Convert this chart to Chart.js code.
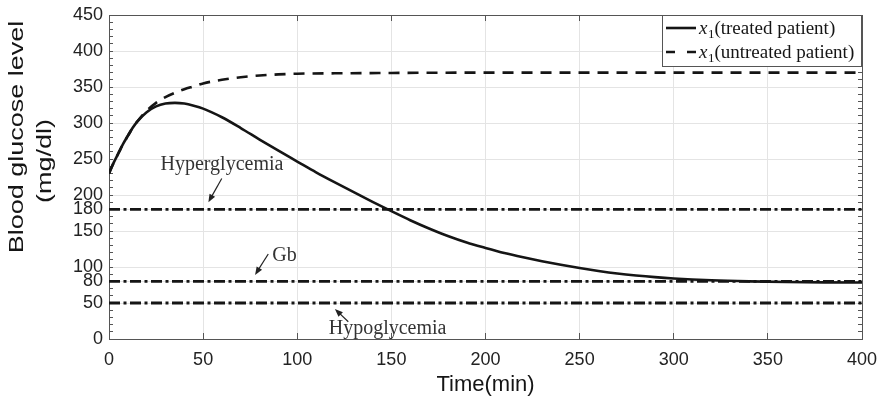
<!DOCTYPE html>
<html><head><meta charset="utf-8">
<script src="https://cdn.jsdelivr.net/npm/chart.js@4.4.1/dist/chart.umd.min.js"></script>
<style>html,body{margin:0;padding:0;background:#fff}#wrap{width:881px;height:406px;position:relative}</style>
</head><body><div id="wrap"><canvas id="c" width="881" height="406"></canvas></div>
<script>
// ---- data ----
const timeTreated = [0,2.5,5,7.5,10,12.5,15,20,25,30,35,40,45,50,60,70,80,90,100,110,120,130,140,150,160,170,180,190,200,210,220,230,240,250,260,270,280,290,300,320,340,360,380,400];
const glucoseTreated = [230,245,258,271,282,293,302,315,323,327,328,327,324,320,308,293,277,261.5,246.5,231.5,217.5,204,190.5,177.5,165,153.5,143,134,126.5,119.5,113.5,108,103,98.5,94.5,91,88.2,85.9,84.1,81.6,80.1,79.2,78.7,78.4];
const timeUntreated = [0,2.5,5,7.5,10,12.5,15,20,25,30,35,40,45,50,60,70,80,90,100,120,150,200,250,300,350,400];
const glucoseUntreated = [230,245,258,271,282,293,302,317,328,336,342,347,351,355,360,363.5,366,367.5,368.5,369,369.5,370,370,370,370,370];
const thresholdValues = [180, 80, 50];
const thresholdNames = ['Hyperglycemia', 'Gb', 'Hypoglycemia'];
const seriesNames = ['x\u2081(treated patient)', 'x\u2081(untreated patient)'];
const xTickValues = [0,50,100,150,200,250,300,350,400];
const yTickValues = [0,50,80,100,150,180,200,250,300,350,400,450];
const xTitle = 'Time(min)';
const yTitle = ['Blood glucose level', '(mg/dl)'];

// annotation placement (data coordinates)
const annotationPos = [
  {tx:60, ty:235, from:[59.9,223], to:[52.8,190]},
  {tx:93.2, ty:108.7, from:[84.6,118], to:[77.6,89]},
  {tx:148, ty:7, from:[127.1,24], to:[120,41.7]}
];

const SANS = '"Liberation Sans", Arial, sans-serif';
const SERIF = '"Liberation Serif", "Times New Roman", serif';
const INK = '#151515';
const AXIS = '#555';

const pts = (xs, ys) => xs.map((v,i)=>({x:v, y:ys[i]}));

const datasets = [
  {label: seriesNames[0], data: pts(timeTreated, glucoseTreated), borderColor: INK, borderWidth: 2.6, pointRadius:0, cubicInterpolationMode:'monotone', fill:false, order:1},
  {label: seriesNames[1], data: pts(timeUntreated, glucoseUntreated), borderColor: INK, borderWidth: 2.6, borderDash:[11,8], pointRadius:0, cubicInterpolationMode:'monotone', fill:false, order:1}
];
thresholdValues.forEach((v,i)=>{
  datasets.push({label: thresholdNames[i], data:[{x:xTickValues[0], y:v},{x:xTickValues[xTickValues.length-1], y:v}],
    borderColor: INK, borderWidth: 2.8, borderDash:[11,3.5,3,3.5], pointRadius:0, fill:false, order:2});
});

function setTicks(values){ return function(scale){ scale.ticks = values.map(v=>({value:v})); }; }

const overlay = {
  id: 'overlay',
  afterDatasetsDraw(chart){
    const {ctx, scales:{x, y}, chartArea} = chart;
    ctx.save();
    // annotations
    annotationPos.forEach((a,i)=>{
      ctx.font = '20px ' + SERIF;
      ctx.fillStyle = '#333';
      ctx.textAlign = 'center';
      ctx.textBaseline = 'alphabetic';
      ctx.fillText(thresholdNames[i], x.getPixelForValue(a.tx), y.getPixelForValue(a.ty));
      const x1 = x.getPixelForValue(a.from[0]), y1 = y.getPixelForValue(a.from[1]);
      const x2 = x.getPixelForValue(a.to[0]), y2 = y.getPixelForValue(a.to[1]);
      const ang = Math.atan2(y2-y1, x2-x1);
      ctx.strokeStyle = '#222'; ctx.lineWidth = 1.2;
      ctx.beginPath(); ctx.moveTo(x1,y1); ctx.lineTo(x2 - 5*Math.cos(ang), y2 - 5*Math.sin(ang)); ctx.stroke();
      ctx.fillStyle = '#222';
      ctx.beginPath();
      ctx.moveTo(x2,y2);
      ctx.lineTo(x2 - 8*Math.cos(ang) + 3.2*Math.sin(ang), y2 - 8*Math.sin(ang) - 3.2*Math.cos(ang));
      ctx.lineTo(x2 - 8*Math.cos(ang) - 3.2*Math.sin(ang), y2 - 8*Math.sin(ang) + 3.2*Math.cos(ang));
      ctx.closePath(); ctx.fill();
    });
    // legend
    const bw = 200, bh = 52;
    const bx = chartArea.right - bw, by = chartArea.top;
    ctx.fillStyle = '#fff';
    ctx.fillRect(bx, by, bw, bh);
    ctx.strokeStyle = AXIS; ctx.lineWidth = 1;
    ctx.strokeRect(bx+0.5, by+0.5, bw-1, bh-1);
    [0,1].forEach(i=>{
      const cy = by + 13 + i*24;
      ctx.strokeStyle = INK; ctx.lineWidth = 2.6;
      ctx.setLineDash(i===1 ? [9,12] : []);
      ctx.beginPath(); ctx.moveTo(bx+4, cy); ctx.lineTo(bx+34, cy); ctx.stroke();
      ctx.setLineDash([]);
      const base = cy + 6;
      let px = bx + 37;
      ctx.fillStyle = INK; ctx.textAlign = 'left'; ctx.textBaseline = 'alphabetic';
      ctx.font = 'italic 19px ' + SERIF;
      ctx.fillText('x', px, base); px += ctx.measureText('x').width + 0.5;
      ctx.font = '13px ' + SERIF;
      ctx.fillText('1', px, base + 4); px += ctx.measureText('1').width;
      ctx.font = '19px ' + SERIF;
      ctx.fillText(seriesNames[i].slice(2), px, base);
    });
    ctx.restore();
  },
  afterDraw(chart){
    const {ctx} = chart;
    ctx.save();
    ctx.fillStyle = INK;
    ctx.textAlign = 'center'; ctx.textBaseline = 'middle';
    const centers = [[17, 137], [45, 161]];
    yTitle.forEach((t,i)=>{
      ctx.save();
      ctx.translate(centers[i][0], centers[i][1]);
      ctx.rotate(-Math.PI/2);
      ctx.scale(1, 0.78);
      ctx.font = '27px ' + SANS;
      ctx.fillText(t, 0, 0);
      ctx.restore();
    });
    ctx.restore();
  }
};

const tickFont = {family: SANS, size: 18};
const GRID = '#e4e4e4';

new Chart(document.getElementById('c'), {
  type: 'line',
  data: {datasets},
  plugins: [overlay],
  options: {
    responsive: false,
    animation: false,
    layout: {padding: {left: 0, right: 19, top: 15, bottom: 0}},
    plugins: {legend: {display: false}, tooltip: {enabled: false}},
    scales: {
      x: {type:'linear', position:'bottom', weight:1, min:xTickValues[0], max:xTickValues[xTickValues.length-1],
        afterBuildTicks: setTicks(xTickValues),
        ticks:{font: tickFont, color:'#222', padding:10, autoSkip:false, maxRotation:0},
        grid:{color:GRID, drawTicks:false},
        border:{display:true, color:AXIS},
        title:{display:true, text:xTitle, font:{family:SANS, size:22}, color:INK, padding:{top:0, bottom:8}},
        afterFit(s){ s.height = 67; s.paddingRight = 0; s.paddingLeft = 0; }},
      xMarks: {type:'linear', position:'bottom', weight:0, min:xTickValues[0], max:xTickValues[xTickValues.length-1],
        afterBuildTicks: setTicks(xTickValues),
        ticks:{display:false}, grid:{drawOnChartArea:false, tickLength:-6, color:AXIS}, border:{display:false},
        afterFit(s){ s.height = 0; s.paddingRight = 0; s.paddingLeft = 0; }},
      xTop: {type:'linear', position:'top', min:xTickValues[0], max:xTickValues[xTickValues.length-1],
        afterBuildTicks: setTicks(xTickValues),
        ticks:{display:false}, grid:{drawOnChartArea:false, tickLength:-6, color:AXIS}, border:{display:true, color:AXIS},
        afterFit(s){ s.height = 0; s.paddingRight = 0; s.paddingLeft = 0; }},
      y: {type:'linear', position:'left', weight:1, min:yTickValues[0], max:yTickValues[yTickValues.length-1],
        afterBuildTicks: setTicks(yTickValues),
        ticks:{font: tickFont, color:'#222', padding:6, autoSkip:false},
        grid:{color:GRID, drawTicks:false},
        border:{display:true, color:AXIS},
        afterFit(s){ s.width = 109; s.paddingTop = 0; s.paddingBottom = 0; }},
      yMarks: {type:'linear', position:'left', weight:0, min:yTickValues[0], max:yTickValues[yTickValues.length-1],
        ticks:{display:false, stepSize:10}, grid:{drawOnChartArea:false, tickLength:-4, color:AXIS}, border:{display:false},
        afterFit(s){ s.width = 0; }},
      yRight: {type:'linear', position:'right', min:yTickValues[0], max:yTickValues[yTickValues.length-1],
        ticks:{display:false, stepSize:10}, grid:{drawOnChartArea:false, tickLength:-4, color:AXIS}, border:{display:true, color:AXIS},
        afterFit(s){ s.width = 0; }}
    }
  }
});
</script>
</body></html>
